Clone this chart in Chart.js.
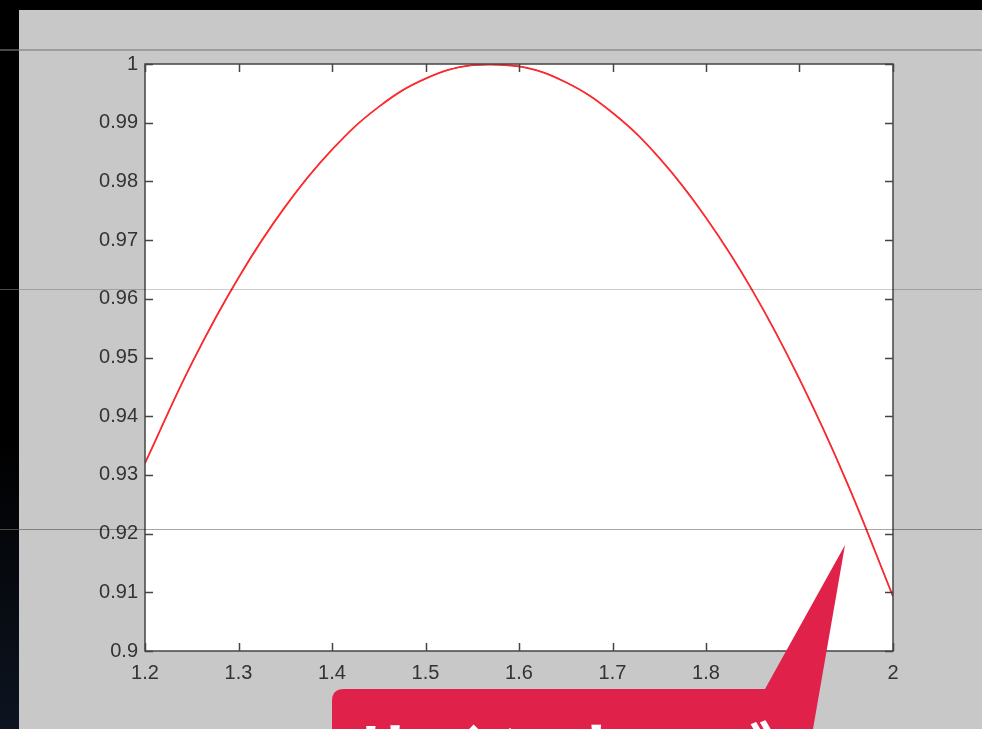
<!DOCTYPE html>
<html lang="ja">
<head>
  <meta charset="UTF-8">
  <title>sin curve</title>
  <style>
    html, body { margin: 0; padding: 0; }
    body { width: 982px; height: 729px; overflow: hidden; position: relative; background: #000; }
    #edge { position: absolute; left: 0; top: 0; width: 19px; height: 729px; background: linear-gradient(#000 0%, #000 60%, #0d1420 100%); }
    #panel { position: absolute; left: 19px; top: 10px; width: 963px; height: 719px; background: #c8c8c8; }
    #plot { position: absolute; left: 0; top: 0; }
    .hline { position: absolute; left: 19px; width: 963px; }
    .eline { position: absolute; left: 0; width: 19px; height: 1px; background: #4a4a4a; }
    #callout { position: absolute; left: 0; top: 0; }
  </style>
</head>
<body>
  <div id="edge"></div>
  <div id="panel"></div>
  <canvas id="plot" width="982" height="729"></canvas>
  <div class="hline" style="top:49px;height:2px;background:rgba(0,0,0,0.22)"></div>
  <div class="hline" style="top:289px;height:1px;background:rgba(0,0,0,0.2)"></div>
  <div class="hline" style="top:529px;height:1px;background:rgba(0,0,0,0.35)"></div>
  <div class="eline" style="top:49px;height:2px"></div>
  <div class="eline" style="top:289px"></div>
  <div class="eline" style="top:529px"></div>
  <svg id="callout" width="982" height="729">
    <path d="M332,729 L332,701 Q332,689 344,689 L765,689 L845,545 L813,729 Z" fill="#e0224a"/>
    <text x="350" y="778" fill="#fff" font-family="Noto Sans CJK JP" font-weight="bold" font-size="66" letter-spacing="6">サインカーブ</text>
  </svg>

  <script src="https://cdn.jsdelivr.net/npm/chart.js"></script>
  <script>
    // values
    const xValues = [1.20, 1.25, 1.30, 1.35, 1.40, 1.45, 1.50, 1.55, 1.60, 1.65, 1.70, 1.75, 1.80, 1.85, 1.90, 1.95, 2.00];
    const yValues = [0.9320, 0.9490, 0.9636, 0.9757, 0.9854, 0.9927, 0.9975, 0.9998, 0.9996, 0.9969, 0.9917, 0.9840, 0.9738, 0.9613, 0.9463, 0.9290, 0.9093];
    const xTicks = [1.2, 1.3, 1.4, 1.5, 1.6, 1.7, 1.8, 1.9, 2.0];
    const xTickLabels = ['1.2', '1.3', '1.4', '1.5', '1.6', '1.7', '1.8', '1.9', '2'];
    const yTicks = [0.9, 0.91, 0.92, 0.93, 0.94, 0.95, 0.96, 0.97, 0.98, 0.99, 1.0];
    const yTickLabels = ['0.9', '0.91', '0.92', '0.93', '0.94', '0.95', '0.96', '0.97', '0.98', '0.99', '1'];

    const points = xValues.map((x, i) => ({ x: x, y: yValues[i] }));

    // white axes background, box and inward ticks like matlab
    const boxPlugin = {
      id: 'box',
      beforeDraw(chart) {
        const a = chart.chartArea, c = chart.ctx;
        c.save();
        c.fillStyle = '#fff';
        c.fillRect(a.left, a.top, a.right - a.left, a.bottom - a.top);
        c.restore();
      },
      afterDraw(chart) {
        const a = chart.chartArea, c = chart.ctx;
        const xs = chart.scales.x, ys = chart.scales.y;
        const len = 8;
        c.save();
        c.strokeStyle = '#444';
        c.lineWidth = 1.5;
        c.strokeRect(a.left, a.top, a.right - a.left, a.bottom - a.top);
        c.beginPath();
        xTicks.forEach(v => {
          const px = Math.round(xs.getPixelForValue(v)) + 0.5;
          c.moveTo(px, a.bottom); c.lineTo(px, a.bottom - len);
          c.moveTo(px, a.top); c.lineTo(px, a.top + len);
        });
        yTicks.forEach(v => {
          const py = Math.round(ys.getPixelForValue(v)) + 0.5;
          c.moveTo(a.left, py); c.lineTo(a.left + len, py);
          c.moveTo(a.right, py); c.lineTo(a.right - len, py);
        });
        c.stroke();
        c.restore();
      }
    };

    const tickFont = { family: 'Liberation Sans', size: 20 };

    new Chart(document.getElementById('plot'), {
      type: 'line',
      data: {
        datasets: [
          {
            data: points,
            borderColor: '#ff2a2a',
            borderWidth: 1.8,
            pointRadius: 0,
            tension: 0.4
          },
          {
            data: points,
            borderColor: '#1a1acc',
            borderWidth: 1,
            pointRadius: 0,
            tension: 0.4
          }
        ]
      },
      options: {
        responsive: false,
        animation: false,
        layout: { padding: { left: 0, right: 89, top: 64, bottom: 0 } },
        plugins: { legend: { display: false }, tooltip: { enabled: false } },
        scales: {
          x: {
            type: 'linear',
            min: 1.2,
            max: 2,
            afterBuildTicks(scale) { scale.ticks = xTicks.map(v => ({ value: v })); },
            afterFit(scale) { scale.height = 78; },
            grid: { display: false, drawTicks: false },
            border: { display: false },
            ticks: {
              padding: 10,
              color: '#333',
              font: tickFont,
              maxRotation: 0,
              autoSkip: false,
              callback: (v, i) => xTickLabels[i]
            }
          },
          y: {
            type: 'linear',
            min: 0.9,
            max: 1,
            afterBuildTicks(scale) { scale.ticks = yTicks.map(v => ({ value: v })); },
            afterFit(scale) { scale.width = 145; },
            grid: { display: false, drawTicks: false },
            border: { display: false },
            ticks: {
              padding: 7,
              color: '#333',
              font: tickFont,
              autoSkip: false,
              callback: (v, i) => yTickLabels[i]
            }
          }
        }
      },
      plugins: [boxPlugin]
    });
  </script>
</body>
</html>
